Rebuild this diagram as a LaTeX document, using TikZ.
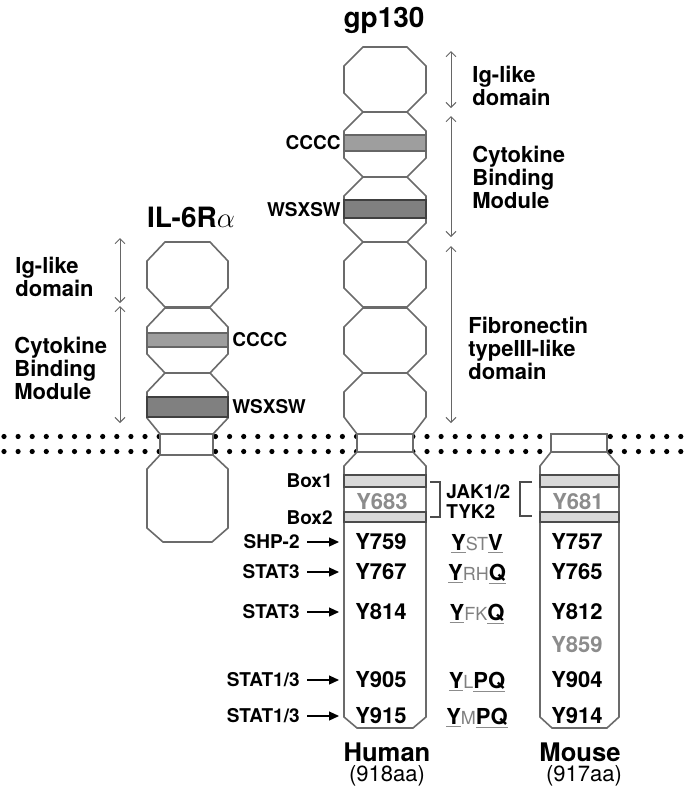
\documentclass[tikz,border=0pt]{standalone}
\usepackage{fontspec}
\setmainfont{TeX Gyre Heros}
\usetikzlibrary{arrows.meta}

\tikzset{
  prot/.style={draw=black!58, line width=0.8pt, fill=white, line join=miter},
  cband/.style={draw=black!60, line width=0.6pt, fill=black!38},
  wband/.style={draw=black!75, line width=0.6pt, fill=black!50},
  bxband/.style={draw=black!70, line width=0.6pt, fill=black!15},
  dim/.style={draw=black!60, line width=0.5pt, <->, >={Straight Barb[width=5pt,length=2.5pt]}},
  sigarr/.style={line width=0.6pt, -{Triangle[width=4.5pt,length=5pt]}},
  brk/.style={draw=black!70, line width=0.6pt},
  lbl/.style={font=\fontsize{11}{11.5}\selectfont\bfseries, align=left, inner sep=0pt},
  title/.style={font=\fontsize{14}{16}\selectfont\bfseries, inner sep=0pt},
  site/.style={font=\fontsize{9.5}{10}\selectfont\bfseries, inner sep=0pt},
  tyr/.style={font=\fontsize{11}{12}\selectfont\bfseries, inner sep=0pt},
  spc/.style={font=\fontsize{12.8}{14}\selectfont\bfseries, inner sep=0pt},
  aa/.style={font=\fontsize{11}{12}\selectfont, inner sep=0pt}
}
\newcommand\ubar[1]{\textcolor{black!45}{\underline{\textcolor{black}{#1}}}}
\newcommand\smg[1]{{\mdseries\fontsize{9}{10}\selectfont\textcolor{black!50}{#1}}}

\begin{document}
\begin{tikzpicture}[x=0.5pt, y=-0.5pt]
\useasboundingbox (0,0) rectangle (688,789);

% membrane
\foreach \k in {0,...,48}
{
	\fill (4+14.1*\k, 436.5) circle (1.3pt);
	\fill (4+14.1*\k, 451.5) circle (1.3pt);
}

% IL-6R alpha
\foreach \t in {242,308}
	\draw[prot] (165,\t) -- (210,\t) -- (228,\t+19) -- (228,\t+46) -- (210,\t+65) -- (165,\t+65) -- (147,\t+46) -- (147,\t+19) -- cycle;
\draw[prot] (165,373) -- (210,373) -- (228,392) -- (228,418) -- (213,434) -- (160,434) -- (147,418) -- (147,392) -- cycle;
\draw[cband] (147,333) rectangle (228,347);
\draw[wband] (147,397) rectangle (228,417);
\draw[prot] (160,434) rectangle (213,455);
\draw[prot] (160,455) -- (147,469) -- (147,528) -- (163,542) -- (212,542) -- (228,528) -- (228,469) -- (213,455) -- cycle;

% gp130 human
\foreach \t in {47,112,177,242,308}
	\draw[prot] (363,\t) -- (407,\t) -- (426,\t+19) -- (426,\t+46) -- (407,\t+65) -- (363,\t+65) -- (344,\t+46) -- (344,\t+19) -- cycle;
\draw[prot] (363,373) -- (407,373) -- (426,392) -- (426,417) -- (413,434) -- (357,434) -- (344,417) -- (344,392) -- cycle;
\draw[cband] (344,135) rectangle (426,151);
\draw[wband] (344,200) rectangle (426,218);
\draw[prot] (357,434) rectangle (413,452);
\draw[prot] (357,452) -- (344,466) -- (344,717) -- (357,728) -- (413,728) -- (426,717) -- (426,466) -- (413,452) -- cycle;
\draw[bxband] (344,475) rectangle (426,487);
\draw[bxband] (344,512) rectangle (426,522);

% gp130 mouse
\draw[prot] (551,434) rectangle (607,452);
\draw[prot] (551,452) -- (540,466) -- (540,717) -- (552,728) -- (607,728) -- (619,717) -- (619,466) -- (607,452) -- cycle;
\draw[bxband] (540,475) rectangle (619,487);
\draw[bxband] (540,512) rectangle (619,522);

% titles
\node[title] (gp) at (384,20) {gp130};
\node[title] (il) at (191,217) {IL-6R$\alpha$};

% domain ranges
\coordinate (ilA) at (120,238);
\coordinate (ilB) at (120,303);
\coordinate (ilC) at (120,306);
\coordinate (ilD) at (120,423);
\coordinate (gpA) at (451,51);
\coordinate (gpB) at (451,108);
\coordinate (gpC) at (451,116);
\coordinate (gpD) at (451,237);
\coordinate (gpE) at (451,246);
\coordinate (gpF) at (451,423);
\draw[dim] (ilA) -- (ilB);
\draw[dim] (ilC) -- (ilD);
\draw[dim] (gpA) -- (gpB);
\draw[dim] (gpC) -- (gpD);
\draw[dim] (gpE) -- (gpF);

\node[lbl, anchor=west] (ilig) at (15,277) {Ig-like\\domain};
\node[lbl, anchor=west] (ilcbm) at (14,368) {Cytokine\\Binding\\Module};
\node[lbl, anchor=west] (gpig) at (472,86) {Ig-like\\domain};
\node[lbl, anchor=west] (gpcbm) at (472,177) {Cytokine\\Binding\\Module};
\node[lbl, anchor=west] (gpfn) at (468,348) {Fibronectin\\typeIII-like\\domain};

% conserved motifs
\node[site, anchor=east] (gpcc) at (341,143) {CCCC};
\node[site, anchor=east] (gpws) at (341,210) {WSXSW};
\node[site, anchor=west] (ilcc) at (232,340) {CCCC};
\node[site, anchor=west] (ilws) at (232,407) {WSXSW};

% cytoplasmic region
\node[site, anchor=east] (box1) at (333,481) {Box1};
\node[site, anchor=east] (box2) at (333,518) {Box2};
\node[site, anchor=west, align=left] (jak) at (446,502) {JAK1/2\\TYK2};
\draw[brk] (430,482) -- (440,482) -- (440,517) -- (430,517);
\draw[brk] (532,482) -- (520,482) -- (520,516) -- (532,516);
\node[tyr, text=black!45] (hy683) at (382,502) {Y683};
\node[tyr, text=black!45] (my681) at (578,502) {Y681};

\coordinate (hl) at (339,0);
\foreach \y/\sig/\h/\m/\mot [count=\i] in {542/SHP-2/759/757/{\ubar{Y}\smg{ST}\ubar{V}},
	572/STAT3/767/765/{\ubar{Y}\smg{RH}\ubar{Q}},
	612/STAT3/814/812/{\ubar{Y}\smg{FK}\ubar{Q}},
	680/{STAT1/3}/905/904/{\ubar{Y}\smg{L}\ubar{PQ}},
	716/{STAT1/3}/915/914/{\ubar{Y}\smg{M}\ubar{PQ}}}
{
	\node[site, anchor=east] (sig\i) at (300,\y) {\sig};
	\draw[sigarr] ([xshift=3.5pt]sig\i.east) -- (sig\i.east -| hl);
	\node[tyr] (hy\i) at (381,\y) {Y\h};
	\node[tyr] (my\i) at (577,\y) {Y\m};
	\node[tyr, anchor=base] (mot\i) at (477,\y+8) {\mot};
}
\node[tyr, text=black!45] (my859) at (577,645) {Y859};

\node[spc] (hum) at (387,752) {Human};
\node[aa] (humaa) at (387,776) {(918aa)};
\node[spc] (mou) at (580,752) {Mouse};
\node[aa] (mouaa) at (584,776) {(917aa)};
\end{tikzpicture}
\end{document}
